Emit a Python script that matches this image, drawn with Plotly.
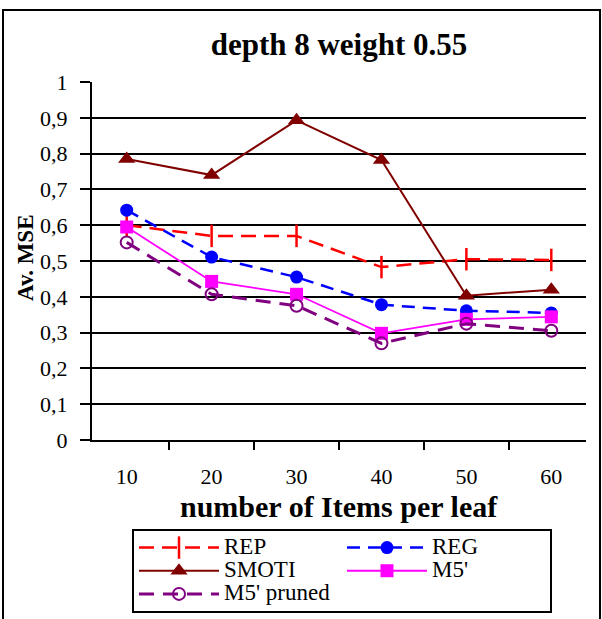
import plotly.graph_objects as go

categories = ["10", "20", "30", "40", "50", "60"]
rep = [0.60, 0.57, 0.57, 0.483, 0.505, 0.503]
reg = [0.642, 0.511, 0.455, 0.378, 0.361, 0.355]
smoti = [0.785, 0.74, 0.893, 0.782, 0.403, 0.42]
m5 = [0.595, 0.443, 0.407, 0.298, 0.337, 0.344]
m5_pruned = [0.552, 0.407, 0.375, 0.27, 0.325, 0.305]

series_names = ["REP", "REG", "SMOTI", "M5'", "M5' pruned"]
y_ticks = [0, 0.1, 0.2, 0.3, 0.4, 0.5, 0.6, 0.7, 0.8, 0.9, 1]

SERIF = "Liberation Serif"


def lg(name):
    return '<span style="font-size:23px">' + name + '</span>'


fig = go.Figure()
fig.add_trace(go.Scatter(
    x=categories, y=rep, name=lg(series_names[0]), mode="lines+markers",
    line=dict(color="#FF0000", width=2.5, dash="15px,8px"),
    marker=dict(symbol="line-ns", size=16, color="#FF0000",
                line=dict(color="#FF0000", width=2.5))))
fig.add_trace(go.Scatter(
    x=categories, y=reg, name=lg(series_names[1]), mode="lines+markers",
    line=dict(color="#0000FF", width=2.5, dash="13px,8px"),
    marker=dict(symbol="circle", size=13, color="#0000FF")))
fig.add_trace(go.Scatter(
    x=categories, y=smoti, name=lg(series_names[2]), mode="lines+markers",
    line=dict(color="#800000", width=2),
    marker=dict(symbol="triangle-up", size=15, color="#800000")))
fig.add_trace(go.Scatter(
    x=categories, y=m5, name=lg(series_names[3]), mode="lines+markers",
    line=dict(color="#FF00FF", width=1.8),
    marker=dict(symbol="square", size=13, color="#FF00FF")))
fig.add_trace(go.Scatter(
    x=categories, y=m5_pruned, name=lg(series_names[4]), mode="lines+markers",
    line=dict(color="#800080", width=3, dash="15px,9px"),
    marker=dict(symbol="circle-open", size=12, color="#800080",
                line=dict(color="#800080", width=2))))

L, R, T, B = 92, 16, 82, 179
W, H = 602, 619
pw, ph = W - L - R, H - T - B


def px_x(x):
    return (x - L) / pw


def px_y(y):
    return (H - B - y) / ph


fig.update_layout(
    width=W, height=H,
    margin=dict(l=L, r=R, t=T, b=B, autoexpand=False),
    paper_bgcolor="white", plot_bgcolor="white",
    separators=", ",
    font=dict(family=SERIF, color="black", size=22),
    title=dict(text="depth 8 weight 0.55", x=0.5, xref="paper", xanchor="center",
               y=1 - 44 / H, yanchor="middle",
               font=dict(family=SERIF, size=31, weight="bold", color="black")),
    xaxis=dict(type="category", tickson="boundaries", ticks="outside", ticklen=8,
               tickwidth=2, tickcolor="black", showline=True, linecolor="black",
               linewidth=2, showgrid=False, zeroline=False,
               ticklabelstandoff=16, tickfont=dict(size=22, family=SERIF)),
    yaxis=dict(range=[0, 1], tickvals=y_ticks, ticks="outside", ticklen=10,
               tickwidth=2, tickcolor="black", showline=True, linecolor="black",
               linewidth=2, showgrid=True, gridcolor="black", gridwidth=2,
               zeroline=False, ticklabelstandoff=8,
               tickfont=dict(size=22, family=SERIF)),
    showlegend=True,
    legend=dict(orientation="h", x=px_x(132), xanchor="left",
                y=px_y(529), yanchor="top", bordercolor="black", borderwidth=2,
                bgcolor="white", itemwidth=80, entrywidth=113,
                font=dict(family=SERIF, size=15.5, color="black"),
                tracegroupgap=0),
    annotations=[
        dict(text="<b>number of Items per leaf</b>", x=0.5, xref="paper",
             y=px_y(507), yref="paper", xanchor="center", yanchor="middle",
             showarrow=False, font=dict(family=SERIF, size=30, color="black")),
        dict(text="<b>Av. MSE</b>", x=px_x(25), xref="paper", y=px_y(258),
             yref="paper", xanchor="center", yanchor="middle", textangle=-90,
             showarrow=False, font=dict(family=SERIF, size=23, color="black")),
    ],
    shapes=[
        dict(type="rect", xref="paper", yref="paper",
             x0=px_x(3), x1=px_x(600), y0=px_y(625), y1=px_y(10),
             line=dict(color="black", width=2), fillcolor="rgba(0,0,0,0)",
             layer="below"),
    ],
)

fig.write_html("out.html")
